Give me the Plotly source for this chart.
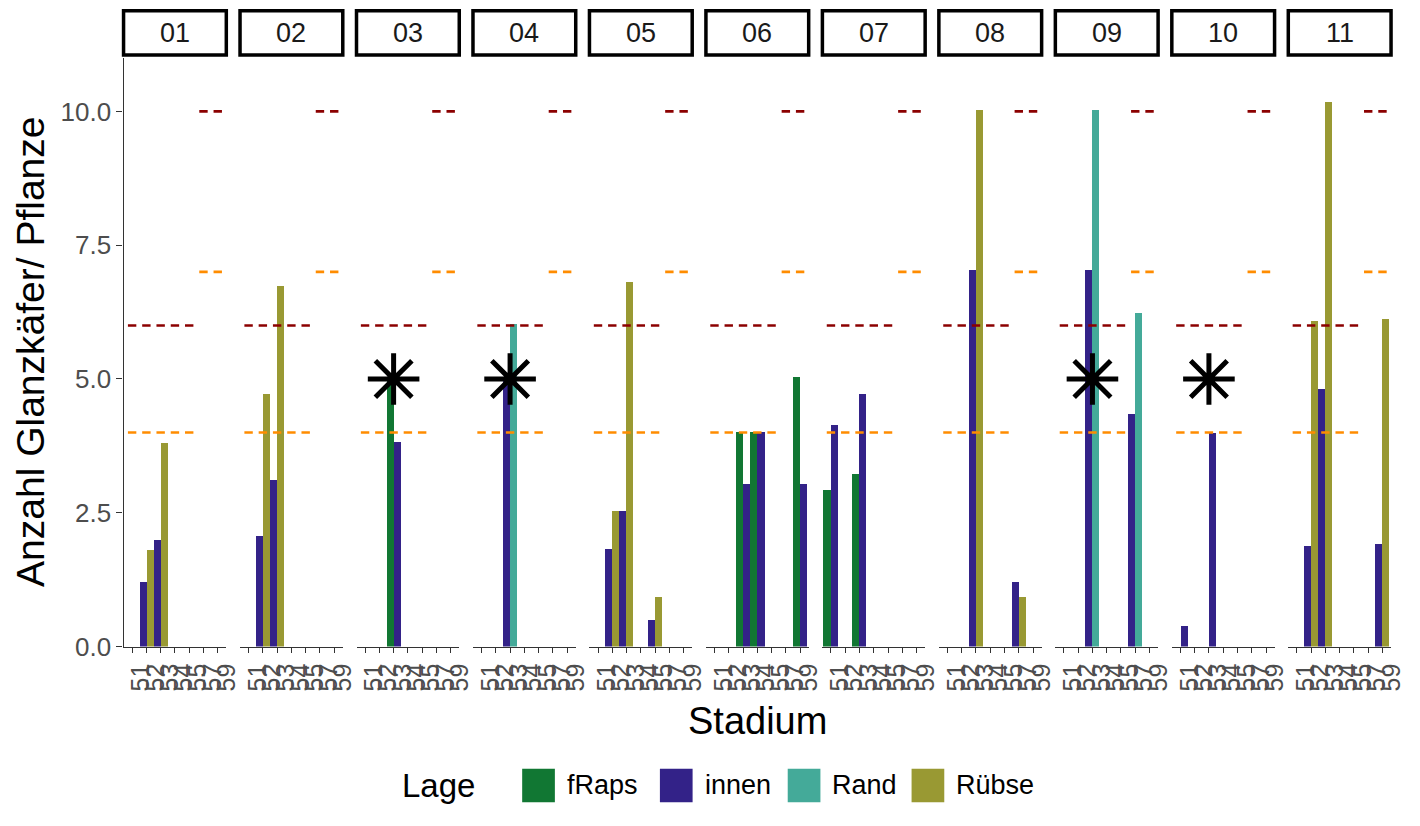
import plotly.graph_objects as go

# --- data -----------------------------------------------------------------
stadien = ["51", "52", "53", "54", "55", "57", "59"]
parzellen = ["01", "02", "03", "04", "05", "06", "07", "08", "09", "10", "11"]
lage_stufen = ["fRaps", "innen", "Rand", "Rübse"]
lage_farben = ["#117733", "#332288", "#44AA99", "#999933"]

# long format: one row per bar
bar_parzelle = ["01", "01", "01", "01",
                "02", "02", "02", "02",
                "03", "03",
                "04", "04",
                "05", "05", "05", "05", "05", "05",
                "06", "06", "06", "06", "06", "06",
                "07", "07", "07", "07",
                "08", "08", "08", "08",
                "09", "09", "09", "09",
                "10", "10", "10", "10",
                "11", "11", "11", "11", "11", "11"]
bar_lage = ["innen", "Rübse", "innen", "Rübse",
            "innen", "Rübse", "innen", "Rübse",
            "fRaps", "innen",
            "innen", "Rand",
            "innen", "Rübse", "innen", "Rübse", "innen", "Rübse",
            "fRaps", "innen", "fRaps", "innen", "fRaps", "innen",
            "fRaps", "innen", "fRaps", "innen",
            "innen", "Rübse", "innen", "Rübse",
            "innen", "Rand", "innen", "Rand",
            "fRaps", "innen", "fRaps", "innen",
            "innen", "Rübse", "innen", "Rübse", "innen", "Rübse"]
bar_stadium = ["52", "52", "53", "53",
               "52", "52", "53", "53",
               "53", "53",
               "53", "53",
               "52", "52", "53", "53", "55", "55",
               "53", "53", "54", "54", "59", "59",
               "51", "51", "53", "53",
               "53", "53", "57", "57",
               "53", "53", "57", "57",
               "51", "51", "53", "53",
               "52", "52", "53", "53", "59", "59"]
bar_anzahl = [1.2, 1.8, 2.0, 3.8,
              2.07, 4.73, 3.12, 6.73,
              5.0, 3.83,
              5.0, 6.03,
              1.83, 2.53, 2.53, 6.82, 0.5, 0.93,
              4.02, 3.04, 4.02, 4.02, 5.03, 3.04,
              2.92, 4.14, 3.22, 4.72,
              7.03, 10.03, 1.21, 0.93,
              7.03, 10.03, 4.35, 6.24,
              0.0, 0.39, 0.0, 4.0,
              1.88, 6.08, 4.81, 10.18, 1.91, 6.13]

# thresholds per stage
schwelle_orange = [4, 4, 4, 4, 4, 7, 7]
schwelle_rot = [6, 6, 6, 6, 6, 10, 10]

# marked plots
stern_parzelle = ["03", "04", "09", "10"]
stern_stadium = ["53", "53", "53", "53"]
stern_wert = [5, 5, 5, 5]

y_ticks = [0, 2.5, 5, 7.5, 10]
y_ticktext = ["0.0", "2.5", "5.0", "7.5", "10.0"]

# --- layout geometry (pixels) ---------------------------------------------
W, H = 1420, 826
PANEL_L0, PANEL_STEP, PANEL_W = 124.7, 117.55, 103.7
PLOT_TOP, PLOT_BOTTOM = 59.0, 658.5
STRIP_TOP, STRIP_BOTTOM = 11.0, 56.0
FONT = "Liberation Sans, Arial, sans-serif"
AXIS_COL = "#333333"
TEXT_COL = "#4d4d4d"

fig = go.Figure()
layout = dict(
    width=W, height=H,
    margin=dict(l=0, r=0, t=0, b=0),
    paper_bgcolor="white", plot_bgcolor="white",
    barmode="group", bargap=0, bargroupgap=0,
    showlegend=False,
    font=dict(family=FONT, color="black"),
)
shapes = []
annotations = []

for i, parz in enumerate(parzellen):
    sfx = "" if i == 0 else str(i + 1)
    xa, ya = "x" + sfx, "y" + sfx
    left = PANEL_L0 + i * PANEL_STEP
    right = left + PANEL_W

    layout["xaxis" + sfx] = dict(
        domain=[left / W, right / W], anchor=ya,
        type="category", categoryorder="array", categoryarray=stadien,
        tickmode="array", tickvals=stadien, ticktext=stadien,
        range=[-0.6, len(stadien) - 0.4],
        showline=True, linecolor=AXIS_COL, linewidth=1.3,
        ticks="outside", ticklen=5, tickwidth=1.1, tickcolor=AXIS_COL,
        tickangle=-90, ticklabelshift=9, ticklabelstandoff=1,
        tickfont=dict(size=25, color=TEXT_COL, family=FONT),
        showgrid=False, zeroline=False, fixedrange=True,
    )
    ydef = dict(
        domain=[(H - PLOT_BOTTOM) / H, (H - PLOT_TOP) / H], anchor=xa,
        range=[0, 11], showgrid=False, zeroline=False, fixedrange=True,
    )
    if i == 0:
        ydef.update(showline=True, linecolor=AXIS_COL, linewidth=1.3,
                    ticks="outside", ticklen=6, tickwidth=1.1, tickcolor=AXIS_COL,
                    tickvals=y_ticks, ticktext=y_ticktext,
                    tickfont=dict(size=26, color=TEXT_COL, family=FONT))
    else:
        ydef.update(showline=False, showticklabels=False, ticks="")
    layout["yaxis" + sfx] = ydef

    # bars: one trace per Lage present in this plot, in factor order
    rows = [k for k, p in enumerate(bar_parzelle) if p == parz]
    for lage, farbe in zip(lage_stufen, lage_farben):
        sel = [k for k in rows if bar_lage[k] == lage]
        if not sel:
            continue
        fig.add_trace(go.Bar(
            x=[bar_stadium[k] for k in sel],
            y=[bar_anzahl[k] for k in sel],
            name=lage, marker=dict(color=farbe, line=dict(width=0)),
            xaxis=xa, yaxis=ya, hoverinfo="x+y+name",
        ))

    # threshold marks per stage
    for werte, farbe in ((schwelle_orange, "#FF8C00"), (schwelle_rot, "#8B0000")):
        fig.add_trace(go.Scatter(
            x=stadien, y=werte, mode="markers",
            marker=dict(symbol="line-ew", size=6,
                        line=dict(width=2.7, color=farbe)),
            xaxis=xa, yaxis=ya, hoverinfo="skip",
        ))

    # asterisk marks
    sx = [s for p, s in zip(stern_parzelle, stern_stadium) if p == parz]
    sy = [v for p, v in zip(stern_parzelle, stern_wert) if p == parz]
    if sx:
        fig.add_trace(go.Scatter(
            x=sx, y=sy, mode="markers",
            marker=dict(symbol="asterisk", size=43,
                        line=dict(width=5, color="black")),
            xaxis=xa, yaxis=ya, hoverinfo="skip",
        ))

    # facet strip
    shapes.append(dict(type="rect", xref="paper", yref="paper",
                       x0=left / W, x1=right / W,
                       y0=(H - STRIP_BOTTOM) / H, y1=(H - STRIP_TOP) / H,
                       line=dict(color="black", width=3.5), fillcolor="white",
                       layer="above"))
    annotations.append(dict(xref="paper", yref="paper",
                            x=(left + right) / 2 / W,
                            y=(H - (STRIP_TOP + STRIP_BOTTOM) / 2) / H,
                            text=parz, showarrow=False,
                            font=dict(size=27, color="#1a1a1a", family=FONT),
                            xanchor="center", yanchor="middle"))

# axis titles
annotations.append(dict(xref="paper", yref="paper",
                        x=(PANEL_L0 + (PANEL_L0 + 10 * PANEL_STEP + PANEL_W)) / 2 / W,
                        y=(H - 734) / H, text="Stadium", showarrow=False,
                        font=dict(size=38, color="black", family=FONT),
                        xanchor="center", yanchor="middle"))
annotations.append(dict(xref="paper", yref="paper",
                        x=31 / W, y=(H - (PLOT_TOP + PLOT_BOTTOM) / 2) / H,
                        text="Anzahl Glanzkäfer/ Pflanze", showarrow=False,
                        textangle=-90,
                        font=dict(size=39, color="black", family=FONT),
                        xanchor="center", yanchor="middle"))

# legend
LEG_Y = 800
annotations.append(dict(xref="paper", yref="paper", x=404 / W, y=(H - LEG_Y) / H,
                        text="Lage", showarrow=False,
                        font=dict(size=33, color="black", family=FONT),
                        xanchor="left", yanchor="middle"))
key_x = [527, 666, 795, 920]
for lage, farbe, kx in zip(lage_stufen, lage_farben, key_x):
    shapes.append(dict(type="rect", xref="paper", yref="paper",
                       x0=kx / W, x1=(kx + 33) / W,
                       y0=(H - (LEG_Y + 17)) / H, y1=(H - (LEG_Y - 17)) / H,
                       line=dict(width=0), fillcolor=farbe))
    annotations.append(dict(xref="paper", yref="paper", x=(kx + 43) / W,
                            y=(H - LEG_Y) / H, text=lage, showarrow=False,
                            font=dict(size=27, color="black", family=FONT),
                            xanchor="left", yanchor="middle"))

layout["shapes"] = shapes
layout["annotations"] = annotations
fig.update_layout(**layout)
fig.write_html("out.html")
